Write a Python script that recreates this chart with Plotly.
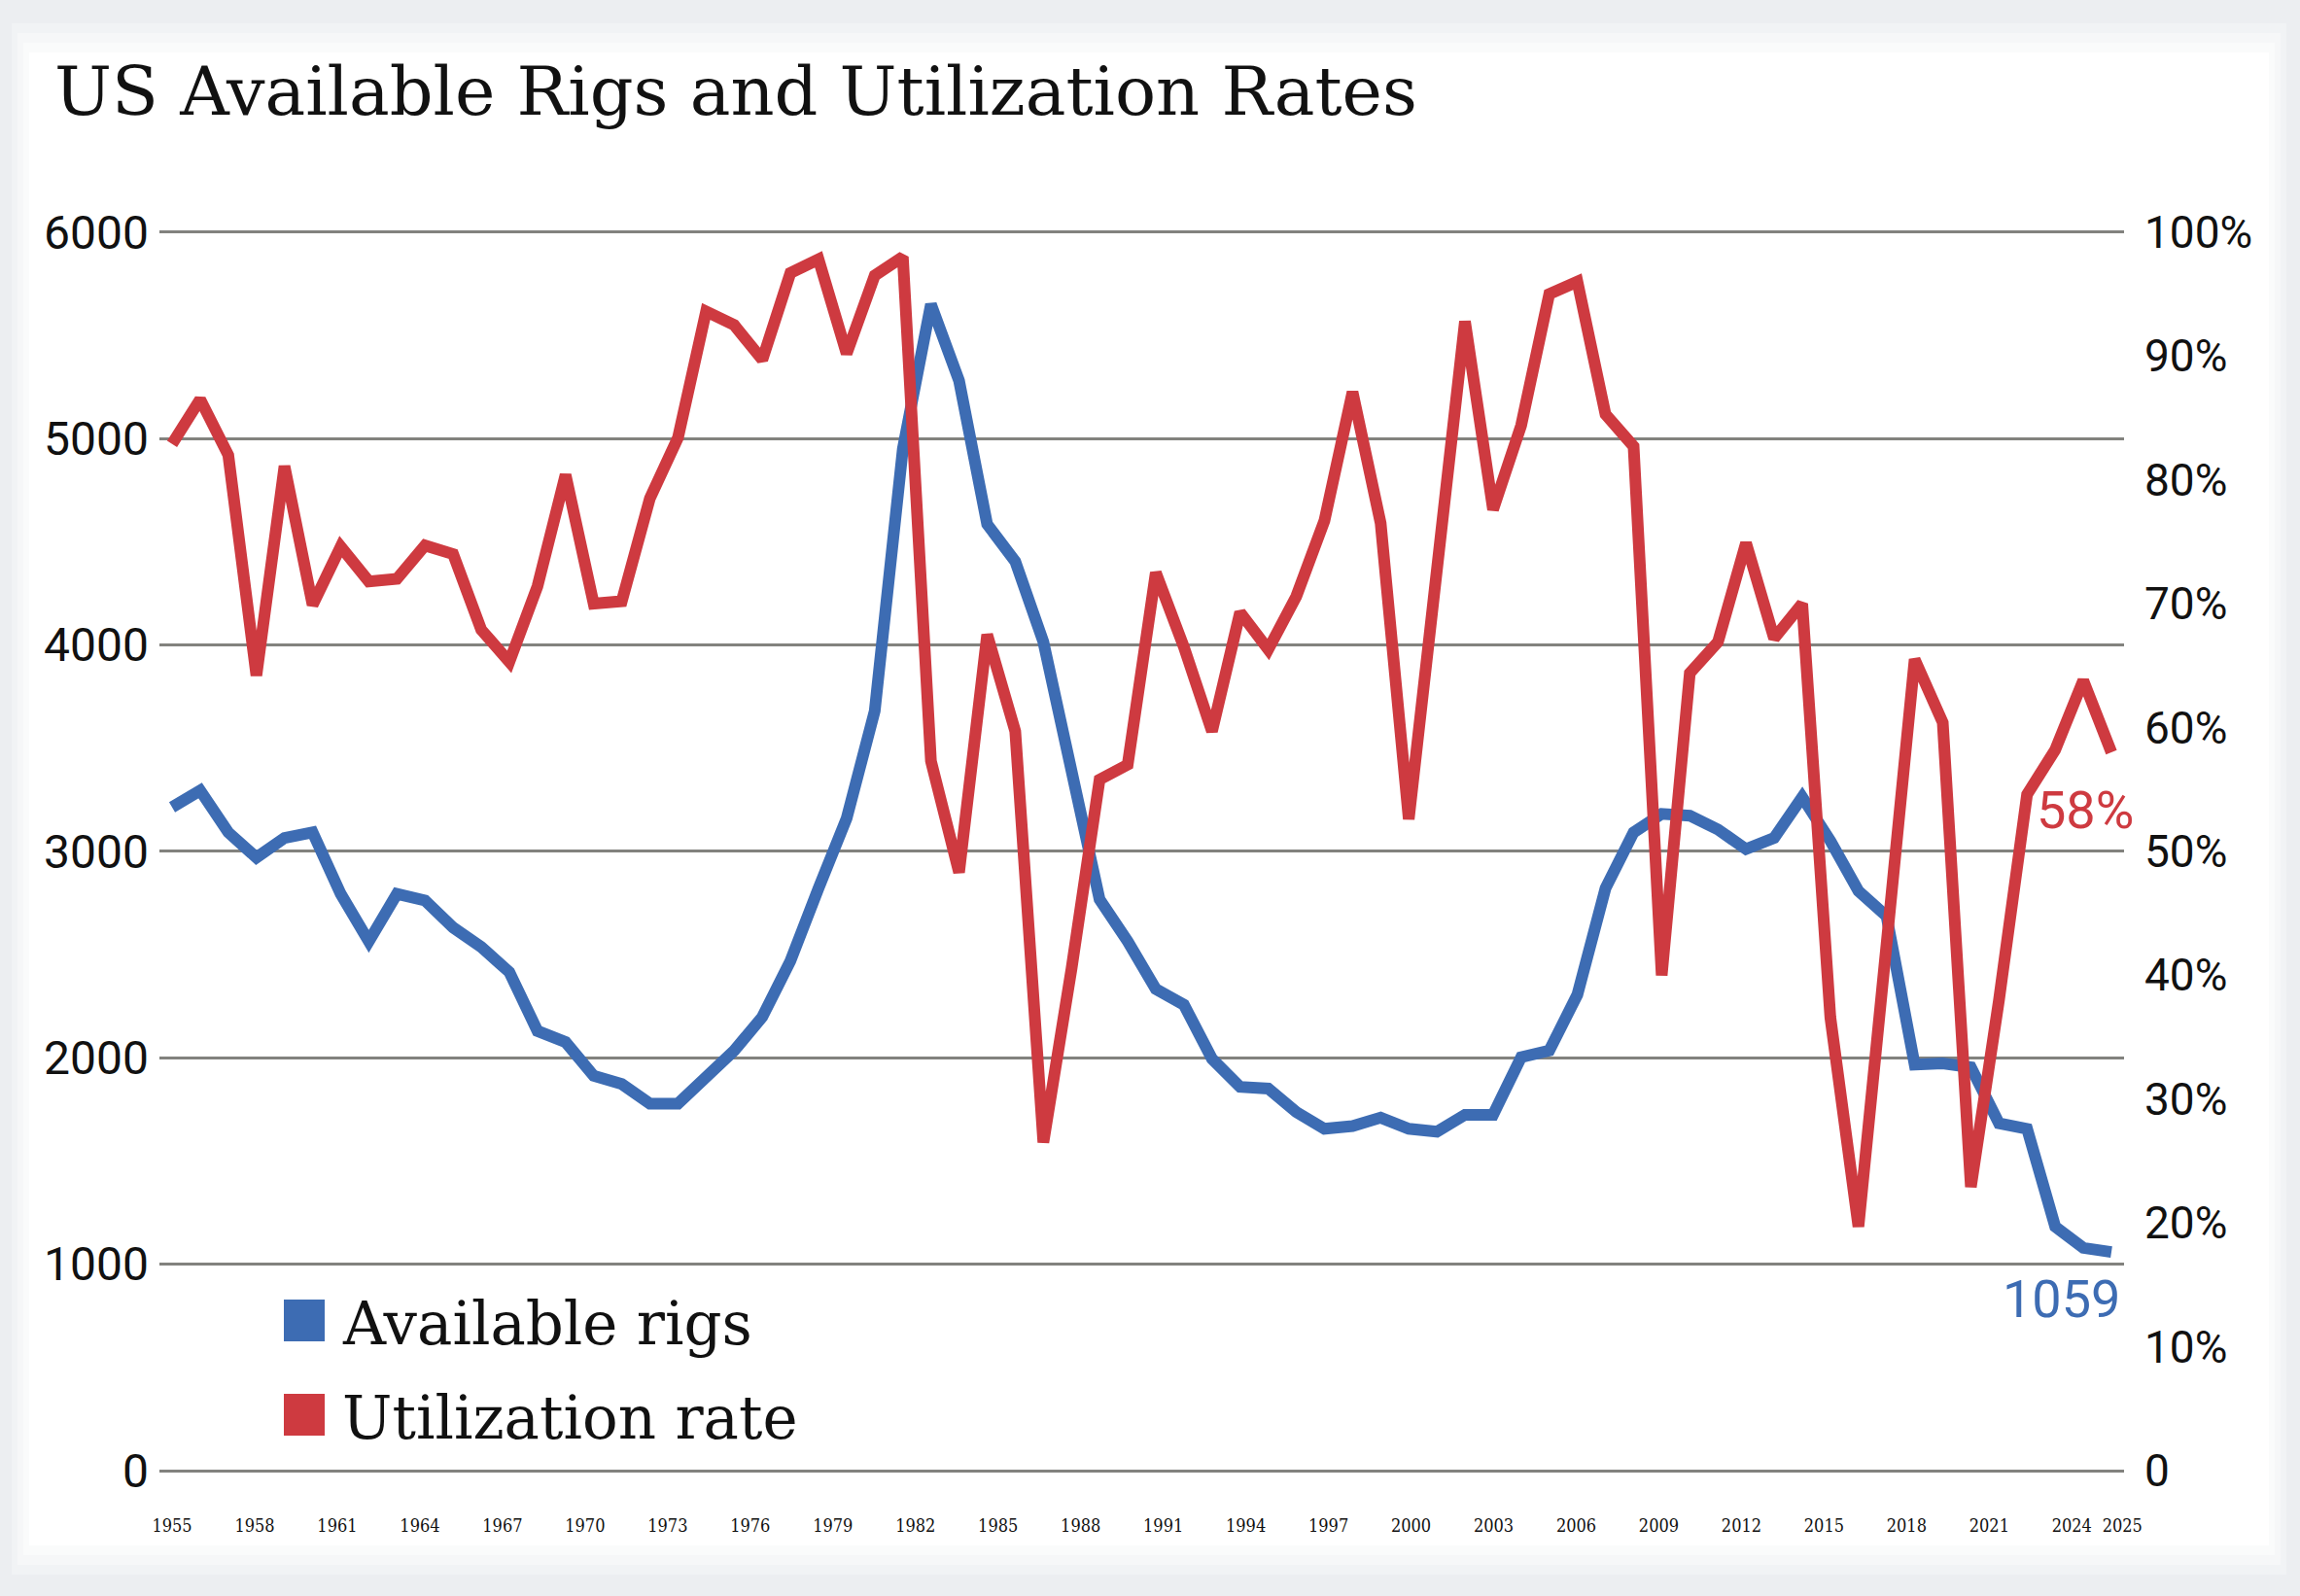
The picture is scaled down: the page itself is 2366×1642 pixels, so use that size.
import plotly.graph_objects as go

# ---------------- data ----------------
years = list(range(1956, 2026))
available_rigs = [3214, 3295, 3092, 2970, 3065, 3092, 2794, 2564, 2794, 2762,
                  2631, 2537, 2415, 2130, 2076, 1913, 1873, 1778, 1778, 1900,
                  2035, 2198, 2469, 2821, 3160, 3680, 4950, 5650, 5280, 4585,
                  4405, 4015, 3395, 2767, 2564, 2333, 2257, 1995, 1859, 1851,
                  1737, 1656, 1669, 1710, 1656, 1642, 1724, 1724, 2003, 2035,
                  2306, 2821, 3092, 3182, 3173, 3106, 3011, 3065, 3263, 3051,
                  2808, 2686, 1967, 1973, 1954, 1683, 1656, 1182, 1079, 1059]
utilization_rate = [82.9, 86.5, 82.0, 64.2, 81.1, 69.9, 74.6, 71.8, 72.0, 74.7,
                    74.0, 67.9, 65.3, 71.4, 80.4, 70.0, 70.2, 78.5, 83.4, 93.6,
                    92.5, 89.7, 96.7, 97.8, 90.2, 96.5, 98.0, 57.3, 48.3, 67.5,
                    59.7, 26.5, 40.5, 55.8, 57.0, 72.5, 66.5, 59.7, 69.3, 66.3,
                    70.6, 76.7, 87.1, 76.5, 52.6, 72.5, 92.8, 77.6, 84.4, 95.0,
                    96.0, 85.3, 82.7, 40.0, 64.4, 66.9, 74.9, 67.2, 70.0, 36.6,
                    19.7, 42.5, 65.5, 60.4, 22.9, 38.0, 54.6, 58.2, 63.8, 58.0]
x_label_years = list(range(1955, 2025, 3)) + [2025]
left_ticks = [0, 1000, 2000, 3000, 4000, 5000, 6000]
right_ticks = list(range(0, 101, 10))
right_ticktext = ["0"] + [f"{v}%" for v in right_ticks[1:]]

TITLE = "US Available Rigs and Utilization Rates"
BLUE = "#3d6cb3"
RED = "#ce3a40"
GRID = "#82827e"

# ---------------- layout geometry (pixels) ----------------
W, H = 2366, 1642
ML, MR, MT, MB = 164, 181, 235, 129
PW, PH = W - ML - MR, H - MT - MB

# a little headroom so the top gridline is drawn
HEAD = 1.003
Y_MAX, Y2_MAX = 6000 * HEAD, 100 * HEAD


def px_x(X):
    return (X - ML) / PW


def px_y(Y):
    return (H - MB - Y) / PH


# tick label positions: labels are spaced slightly tighter than the points
LABEL_STEP = 0.9796
x_tickvals = [years[0] + (y - x_label_years[0]) * LABEL_STEP for y in x_label_years[:-1]]
x_tickvals.append(years[-1] + 0.39)
x_ticktext = [str(y) for y in x_label_years]

fig = go.Figure()
fig.add_trace(go.Scatter(x=years, y=available_rigs, mode="lines", name="Available rigs",
                         line=dict(color=BLUE, width=12), yaxis="y", showlegend=False,
                         hoverinfo="skip"))
fig.add_trace(go.Scatter(x=years, y=utilization_rate, mode="lines", name="Utilization rate",
                         line=dict(color=RED, width=12), yaxis="y2", showlegend=False,
                         hoverinfo="skip"))

# background vignette
shapes = []
steps = [("#eceef1", 0), ("#f1f3f5", 0.25), ("#f6f7f8", 0.5), ("#fafbfb", 0.75), ("#ffffff", 1.0)]
for color, f in steps:
    l, r, t, b = 6 + 24 * f, 8 + 24 * f, 14 + 40 * f, 12 + 40 * f
    shapes.append(dict(type="rect", xref="paper", yref="paper", layer="below",
                       x0=px_x(l), x1=px_x(W - r), y0=px_y(H - b), y1=px_y(t),
                       fillcolor=color, line=dict(width=0)))

# legend swatches
legend_items = [("Available rigs", BLUE, 1337), ("Utilization rate", RED, 1434)]
annotations = []
for text, color, top in legend_items:
    shapes.append(dict(type="rect", xref="paper", yref="paper",
                       x0=px_x(292), x1=px_x(334), y0=px_y(top + 43), y1=px_y(top),
                       fillcolor=color, line=dict(width=0)))
    annotations.append(dict(text=text, xref="paper", yref="paper", x=px_x(350),
                            y=px_y(top + 24), xanchor="left", yanchor="middle",
                            showarrow=False,
                            font=dict(family="DejaVu Serif", size=61, color="#111111")))

# end labels
annotations.append(dict(text=f"{round(utilization_rate[-1])}%", x=years[-1], y=utilization_rate[-1],
                        xref="x", yref="y2", xanchor="right", yanchor="middle",
                        xshift=25, yshift=-60, showarrow=False,
                        font=dict(family="Roboto", size=54, color=RED)))
annotations.append(dict(text=str(available_rigs[-1]), x=years[-1], y=available_rigs[-1],
                        xref="x", yref="y", xanchor="right", yanchor="middle",
                        xshift=11, yshift=-48, showarrow=False,
                        font=dict(family="Roboto", size=54, color=BLUE)))

fig.update_layout(
    width=W, height=H,
    margin=dict(l=ML, r=MR, t=MT, b=MB, pad=0),
    paper_bgcolor="#eceef1",
    plot_bgcolor="rgba(0,0,0,0)",
    hovermode=False,
    showlegend=False,
    title=dict(text=TITLE, x=56 / W, xref="container", xanchor="left",
               y=1 - 93 / H, yref="container", yanchor="middle",
               font=dict(family="DejaVu Serif", size=70, color="#111111")),
    xaxis=dict(range=[years[0] - 0.45, years[-1] + 0.45], tickvals=x_tickvals, ticktext=x_ticktext,
               showgrid=False, zeroline=False, showline=False, ticks="",
               tickfont=dict(family="DejaVu Serif Condensed, DejaVu Serif", size=18, color="#111111"),
               ticklabelstandoff=44),
    yaxis=dict(range=[0, Y_MAX], tickvals=left_ticks, showgrid=True, gridcolor=GRID, gridwidth=3,
               zeroline=True, zerolinecolor=GRID, zerolinewidth=3, showline=False, ticks="",
               tickfont=dict(family="Roboto", size=48, color="#111111"), ticklabelstandoff=10),
    yaxis2=dict(range=[0, Y2_MAX], overlaying="y", side="right", tickvals=right_ticks,
                ticktext=right_ticktext, showgrid=False, zeroline=False, showline=False, ticks="",
                tickfont=dict(family="Roboto", size=46, color="#111111"), ticklabelstandoff=20),
    shapes=shapes,
    annotations=annotations,
)

fig.write_html("out.html", config={"displayModeBar": False},
               post_script="document.body.style.margin='0';document.body.style.background='#eceef1';")
